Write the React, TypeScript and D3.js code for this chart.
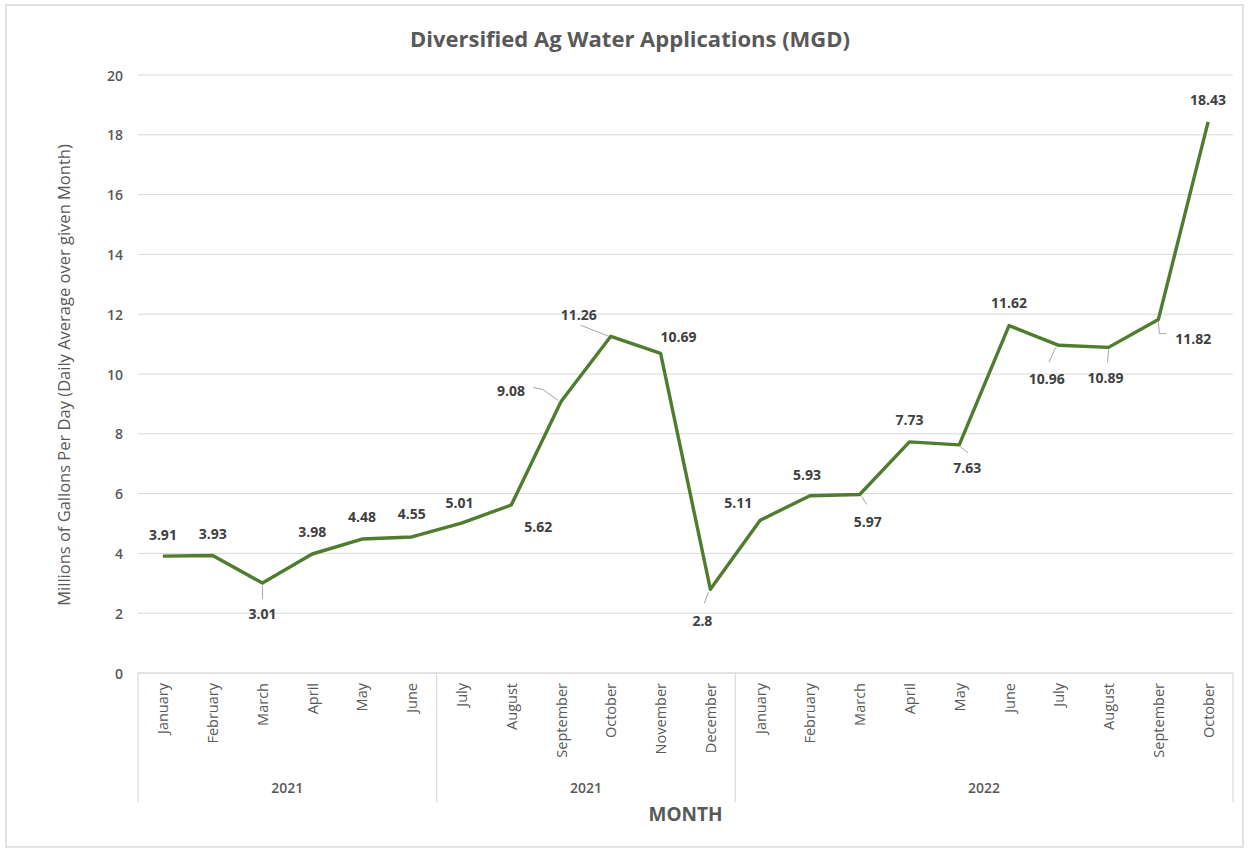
import * as d3 from 'd3';
import React from 'react';

// month categories, grouped by year as in the source sheet
const months = [
  'January', 'February', 'March', 'April', 'May', 'June',
  'July', 'August', 'September', 'October', 'November', 'December',
  'January', 'February', 'March', 'April', 'May', 'June',
  'July', 'August', 'September', 'October',
];
const groupLabels = ['2021', '2021', '2022'];
const groupSizes = [6, 6, 10];

// MGD, daily average over the month
const values = [
  3.91, 3.93, 3.01, 3.98, 4.48, 4.55,
  5.01, 5.62, 9.08, 11.26, 10.69, 2.8,
  5.11, 5.93, 5.97, 7.73, 7.63, 11.62,
  10.96, 10.89, 11.82, 18.43,
];
const yTicks = [0, 2, 4, 6, 8, 10, 12, 14, 16, 18, 20];

// where Excel placed each data label, relative to its point
const labelOffsets: [number, number][] = [
  [0, -22], [0, -22], [0, 30], [0, -22], [0, -23], [0, -23],
  [-2, -21], [27, 22], [-50, -11], [-32, -22], [18, -17], [-8, 31],
  [-22, -18], [-3, -21], [8, 27], [0, -22], [8, 23], [0, -23],
  [-12, 33], [-3, 30], [35, 19], [0, -22],
];
// leader lines for the labels that were dragged away
const leaders: ([number, number][] | null)[] = [
  null, null, [[0, 3], [0, 16]], null, null, null,
  null, null, [[-3, -1], [-18, -12], [-28, -14]], [[-2, 0], [-30, -11]], null, [[-2, 3], [-6, 14]],
  null, null, [[2, 2], [7, 10]], null, [[1, 2], [9, 8]], null,
  [[-3, 2], [-10, 17]], [[0, 2], [-1, 15]], [[0, 1], [1, 14], [8, 14]], null,
];

const W = 1251;
const H = 850;
const left = 138;
const right = 1233;
const top = 75;
const bottom = 673;
const font = '"Open Sans", "Liberation Sans", sans-serif';

export default function App() {
  const idx = months.map((_, i) => i);
  const x = d3.scaleBand<number>().domain(idx).range([left, right]);
  const y = d3.scaleLinear().domain([0, 20]).range([bottom, top]);
  const cx = (i: number) => (x(i) as number) + x.bandwidth() / 2;

  const line = d3.line<number>()
    .x((_, i) => cx(i))
    .y(d => y(d));

  // group boundaries on the category axis
  const bounds: number[] = [0];
  groupSizes.forEach(s => bounds.push(bounds[bounds.length - 1] + s));
  const edge = (k: number) => left + k * x.step();

  return (
    <svg width={W} height={H} style={{ position: 'absolute', left: 0, top: 0, background: '#fff' }}
      fontFamily={font}>
      <rect x={6} y={5} width={1237} height={842} fill="#fff" stroke="#d9d9d9" strokeWidth={1.5} />

      <text x={630} y={38} textAnchor="middle" dominantBaseline="central" fontSize={22}
        fontWeight="bold" fill="#595959">Diversified Ag Water Applications (MGD)</text>

      {yTicks.map(t => (
        <g key={t}>
          {t > 0 && <line x1={left} x2={right} y1={y(t)} y2={y(t)} stroke="#d9d9d9" strokeWidth={1} />}
          <text x={123} y={y(t)} textAnchor="end" dominantBaseline="central" fontSize={14}
            fontWeight={600} fill="#595959">{t}</text>
        </g>
      ))}

      <text transform={`translate(63,375) rotate(-90)`} textAnchor="middle" dominantBaseline="central"
        fontSize={16.5} fill="#595959">Millions of Gallons Per Day (Daily Average over given Month)</text>

      {/* category axis */}
      <line x1={left} x2={right} y1={bottom} y2={bottom} stroke="#d9d9d9" strokeWidth={1.5} />
      {bounds.map(k => (
        <line key={k} x1={edge(k)} x2={edge(k)} y1={bottom} y2={802} stroke="#d9d9d9" strokeWidth={1.2} />
      ))}
      {months.map((m, i) => (
        <text key={i} transform={`translate(${cx(i)},683) rotate(-90)`} textAnchor="end"
          dominantBaseline="central" fontSize={14.5} fill="#595959">{m}</text>
      ))}
      {groupLabels.map((g, k) => (
        <text key={k} x={(edge(bounds[k]) + edge(bounds[k + 1])) / 2} y={787} textAnchor="middle"
          dominantBaseline="central" fontSize={14} fontWeight={600} fill="#595959">{g}</text>
      ))}
      <text x={(left + right) / 2} y={814} textAnchor="middle" dominantBaseline="central"
        fontSize={19} fontWeight="bold" fill="#595959">MONTH</text>

      <path d={line(values) ?? ''} fill="none" stroke="#4f7d2f" strokeWidth={3.4}
        strokeLinejoin="round" />

      {values.map((v, i) => {
        const px = cx(i);
        const py = y(v);
        const [dx, dy] = labelOffsets[i];
        const ld = leaders[i];
        return (
          <g key={i}>
            {ld && (
              <polyline points={ld.map(([a, b]) => `${px + a},${py + b}`).join(' ')}
                fill="none" stroke="#a6a6a6" strokeWidth={1} />
            )}
            <text x={px + dx} y={py + dy} textAnchor="middle" dominantBaseline="central"
              fontSize={14} fontWeight="bold" fill="#404040">{String(v)}</text>
          </g>
        );
      })}
    </svg>
  );
}
